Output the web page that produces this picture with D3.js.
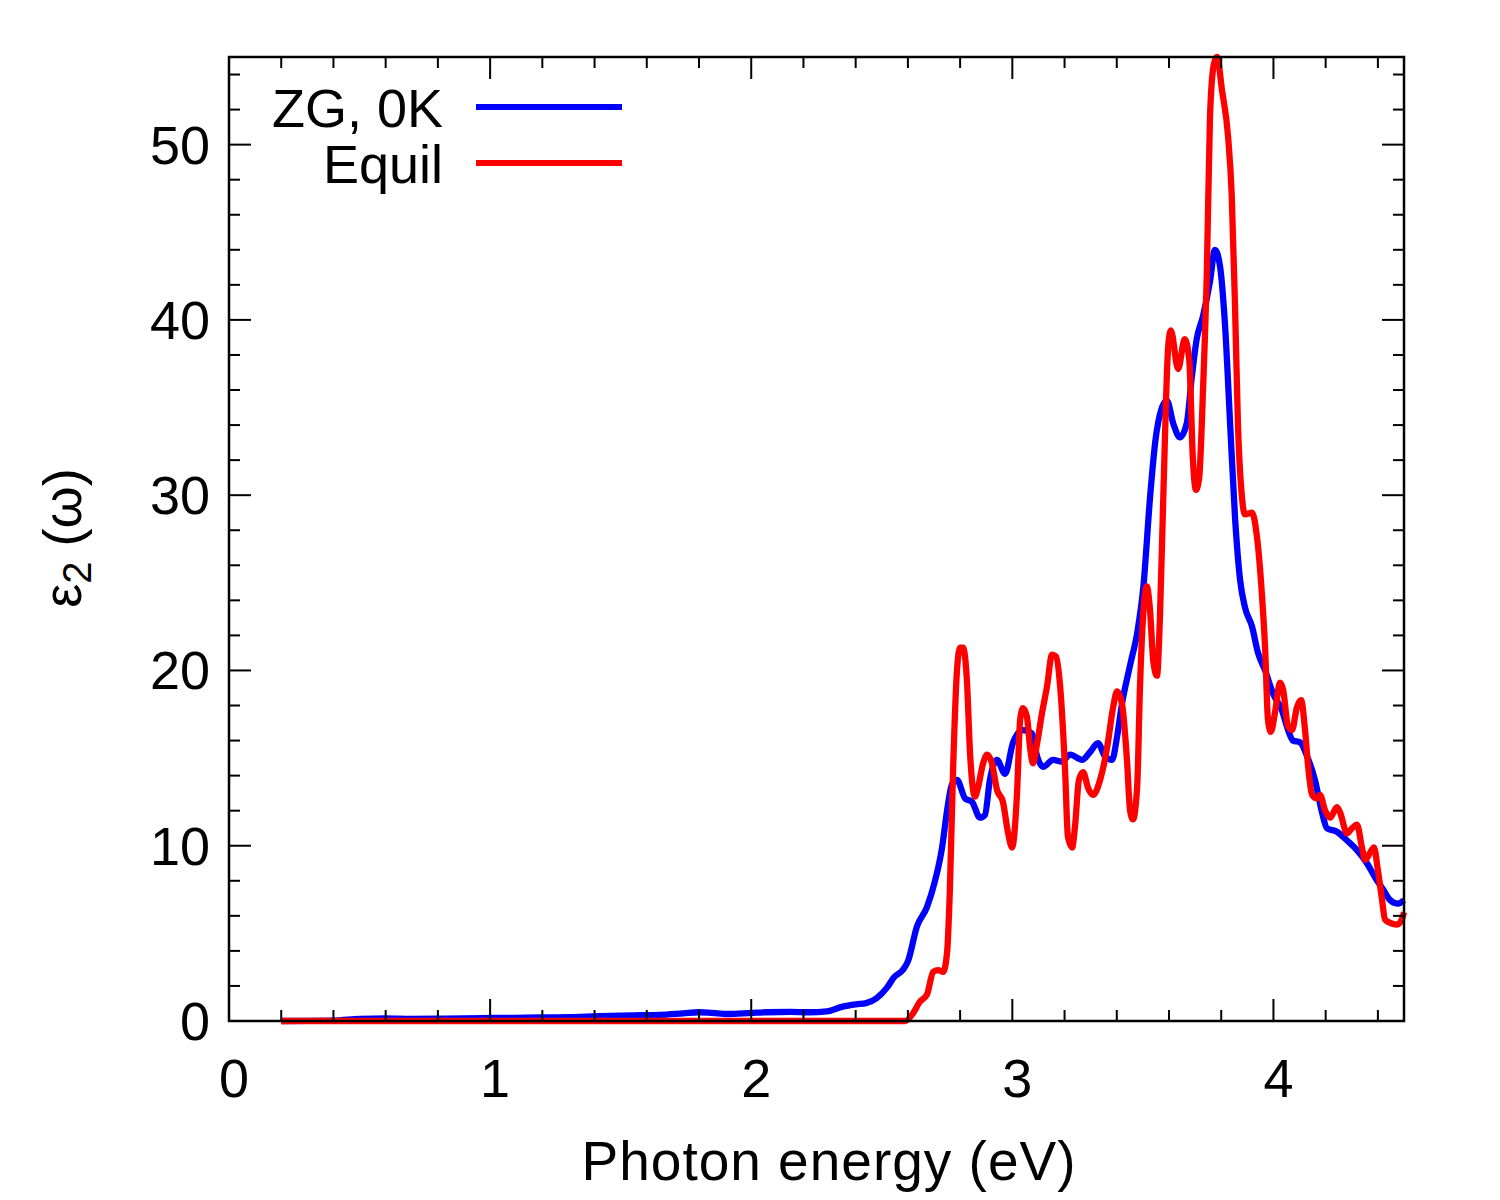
<!DOCTYPE html>
<html>
<head>
<meta charset="utf-8">
<script src="https://cdn.jsdelivr.net/npm/d3@7"></script>
<style>
  html, body { margin: 0; padding: 0; background: #ffffff; }
  text { font-family: "Liberation Sans", Arial, sans-serif; fill: #000; }
</style>
</head>
<body>
<svg id="chart" width="1500" height="1200"></svg>
<script>
// ---- data ----
const xTickLabels = [0, 1, 2, 3, 4];
const yTickLabels = [0, 10, 20, 30, 40, 50];
const seriesNames = ["ZG, 0K", "Equil"];
const seriesColors = ["#0000ff", "#ff0000"];

const zgEnergy = [0.20,0.40,0.50,0.60,0.70,0.80,0.90,1.00,1.10,1.20,1.30,1.42,1.55,1.65,1.74,1.80,1.85,1.91,2.00,2.06,2.15,2.22,2.29,2.35,2.40,2.44,2.48,2.52,2.547,2.58,2.60,2.635,2.673,2.704,2.731,2.750,2.769,2.788,2.819,2.846,2.876,2.895,2.914,2.941,2.972,3.003,3.041,3.075,3.095,3.118,3.156,3.19,3.221,3.267,3.298,3.328,3.355,3.382,3.401,3.42,3.451,3.48,3.502,3.527,3.547,3.573,3.592,3.616,3.642,3.668,3.687,3.706,3.730,3.757,3.776,3.795,3.815,3.834,3.853,3.872,3.891,3.918,3.941,3.968,3.998,4.033,4.056,4.075,4.102,4.129,4.159,4.186,4.205,4.243,4.282,4.32,4.358,4.389,4.42,4.447,4.477,4.5];
const zgValues = [0.00,0.02,0.12,0.15,0.12,0.13,0.15,0.17,0.18,0.20,0.22,0.28,0.32,0.35,0.44,0.50,0.46,0.40,0.46,0.50,0.52,0.50,0.55,0.82,0.95,1.02,1.30,1.90,2.5,2.9,3.4,5.4,6.5,8.0,9.9,12.0,13.5,13.75,12.7,12.5,11.6,11.75,13.75,14.9,14.1,15.9,16.6,16.4,15.1,14.5,14.9,14.8,15.2,14.9,15.35,15.85,15.1,14.9,16.2,18.1,20.3,22.3,24.8,29.8,33.0,35.0,35.4,34.1,33.3,34.1,36.7,38.9,40.2,42.2,44.0,43.1,39.6,34.1,28.7,25.2,23.6,22.5,21.0,20.0,18.7,17.7,16.6,16.0,15.9,15.1,13.75,11.9,11.0,10.8,10.3,9.75,9.0,8.2,7.5,6.9,6.7,6.9];

const eqEnergy = [0.20,2.59,2.62,2.646,2.673,2.697,2.716,2.735,2.75,2.761,2.773,2.788,2.80,2.811,2.826,2.838,2.857,2.869,2.888,2.903,2.922,2.941,2.964,2.984,2.999,3.018,3.03,3.041,3.056,3.068,3.079,3.095,3.114,3.133,3.152,3.167,3.183,3.202,3.213,3.229,3.24,3.255,3.271,3.29,3.309,3.336,3.363,3.386,3.401,3.42,3.439,3.451,3.462,3.478,3.489,3.50,3.515,3.527,3.540,3.554,3.565,3.578,3.597,3.607,3.635,3.66,3.677,3.692,3.703,3.715,3.731,3.745,3.757,3.772,3.784,3.803,3.826,3.840,3.853,3.864,3.880,3.891,3.918,3.937,3.956,3.968,3.979,3.99,4.006,4.025,4.037,4.056,4.071,4.09,4.106,4.121,4.133,4.148,4.167,4.178,4.198,4.217,4.243,4.255,4.282,4.301,4.32,4.339,4.351,4.37,4.385,4.40,4.416,4.427,4.447,4.473,4.492,4.5];
const eqValues = [0,0,0.45,1.1,1.5,2.8,2.9,2.8,3.9,7.6,14.3,20.0,21.3,21.3,19.45,15.3,12.8,13.35,14.7,15.2,14.7,13.2,12.5,10.7,9.9,13.0,17.2,17.85,17.35,15.6,14.7,15.85,17.6,19.1,20.9,20.8,19.1,14.3,10.5,9.9,11.1,13.75,14.2,13.3,12.9,13.75,15.6,17.9,18.8,18.1,14.9,12.0,11.5,13.35,19.1,22.9,24.8,23.5,20.5,19.7,22.9,29.8,38.5,39.4,37.2,38.9,37.8,31.9,30.3,30.9,36.3,42.8,51.6,54.6,55.0,53.1,50.5,47.2,40.7,34.1,29.8,28.9,29.0,27.6,24.3,21.3,17.2,16.5,17.6,19.3,18.9,16.8,16.6,17.9,18.3,16.6,14.5,12.9,12.7,12.9,12.0,11.6,12.2,11.9,10.7,11.0,11.2,9.9,9.2,9.6,9.9,8.6,6.9,5.8,5.6,5.5,5.8,6.2];

// ---- layout ----
const svg = d3.select("#chart");
const pL = 229, pR = 1404, pT = 57, pB = 1021;
const x = d3.scaleLinear().domain([0, 4.5]).range([pL, pR]);
const y = d3.scaleLinear().domain([0, 55]).range([pB, pT]);
const FS = 54;
const LW = 6.3;

// ---- data lines ----
const line = d3.line().x(d => x(d[0])).y(d => y(d[1])).curve(d3.curveMonotoneX);
const zg = zgEnergy.map((e, i) => [e, zgValues[i]]);
const eq = eqEnergy.map((e, i) => [e, eqValues[i]]);
[zg, eq].forEach((s, i) => {
  svg.append("path").datum(s).attr("d", line)
    .attr("fill", "none").attr("stroke", seriesColors[i])
    .attr("stroke-width", LW).attr("stroke-linejoin", "miter").attr("stroke-miterlimit", 4);
});

// ---- ticks (inward, mirrored) ----
const ax = svg.append("g").attr("stroke", "#000").attr("stroke-width", 2);
const xMinor = d3.range(0, 4.5001, 0.2).map(v => +v.toFixed(2));
xMinor.forEach(v => {
  const major = Math.abs(v - Math.round(v)) < 1e-6;
  const len = major ? 22 : 11;
  ax.append("line").attr("x1", x(v)).attr("x2", x(v)).attr("y1", pB).attr("y2", pB - len);
  ax.append("line").attr("x1", x(v)).attr("x2", x(v)).attr("y1", pT).attr("y2", pT + len);
});
const yMinor = d3.range(0, 55.001, 2);
yMinor.forEach(v => {
  const major = v % 10 === 0;
  const len = major ? 22 : 11;
  ax.append("line").attr("y1", y(v)).attr("y2", y(v)).attr("x1", pL).attr("x2", pL + len);
  ax.append("line").attr("y1", y(v)).attr("y2", y(v)).attr("x1", pR).attr("x2", pR - len);
});

// border
svg.append("rect").attr("x", pL).attr("y", pT).attr("width", pR - pL).attr("height", pB - pT)
  .attr("fill", "none").attr("stroke", "#000").attr("stroke-width", 2.5);

// tick labels
xTickLabels.forEach(v => {
  svg.append("text").attr("x", x(v) + 5).attr("y", 1097).attr("text-anchor", "middle")
    .attr("font-size", FS).text(v);
});
yTickLabels.forEach(v => {
  svg.append("text").attr("x", 210).attr("y", y(v) + 19).attr("text-anchor", "end")
    .attr("font-size", FS).text(v);
});

// axis titles
svg.append("text").attr("x", 829).attr("y", 1180).attr("text-anchor", "middle")
  .attr("font-size", 55).attr("letter-spacing", 1).text("Photon energy (eV)");
const yl = svg.append("text").attr("transform", "translate(81,538) rotate(-90)")
  .attr("text-anchor", "middle").attr("font-size", FS);
yl.append("tspan").text("ε");
yl.append("tspan").attr("font-size", 40).attr("dy", 10).text("2");
yl.append("tspan").attr("dy", -10).text(" (ω)");

// legend
const legY = [127, 183];
seriesNames.forEach((n, i) => {
  svg.append("text").attr("x", 443).attr("y", legY[i]).attr("text-anchor", "end")
    .attr("font-size", FS).text(n);
  svg.append("line").attr("x1", 476).attr("x2", 622).attr("y1", legY[i] - 20).attr("y2", legY[i] - 20)
    .attr("stroke", seriesColors[i]).attr("stroke-width", 6);
});
</script>
</body>
</html>
